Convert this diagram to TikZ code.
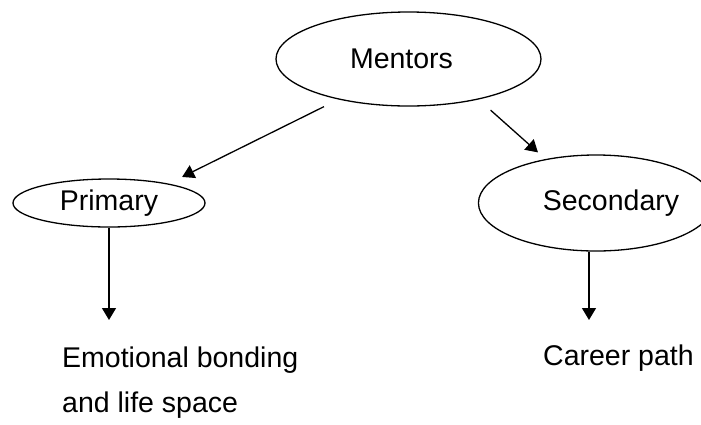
\documentclass[tikz,border=0pt]{standalone}
\usepackage{fontspec}
\setmainfont{Liberation Sans}
\usetikzlibrary{shapes.geometric,arrows.meta}
\tikzset{
bubble/.style={draw, ellipse, line width=1.3pt, inner sep=0pt}, % the ellipses
arr/.style={-{Triangle[length=12pt,width=14pt]}, line width=1.3pt}, % the arrows
}
\begin{document}
\begin{tikzpicture}[x=1pt,y=-1pt,font=\fontsize{28.5}{45}\selectfont]
        \useasboundingbox (0,0) rectangle (701,424);
        \node[bubble, minimum width=265pt, minimum height=94pt] (mentors) at (408.5,59) {\hspace*{-14pt}Mentors};
        \node[bubble, minimum width=192pt, minimum height=48pt] (primary) at (109,203) {Primary};
        \node[bubble, minimum width=208pt, minimum height=96pt] (secondary) at (596,203) {\hspace*{30pt}Secondary};
        % base anchor of a two-line node sits on the last line
        \node[anchor=base west, align=left, inner sep=0pt] (emotional) at (62,412) {Emotional bonding\\and life space};
        \node[anchor=base west, inner sep=0pt] (career) at (543,365) {Career path};
        \coordinate (pend) at (109,320);
        \coordinate (send) at (589,320);
        \draw[arr, shorten <=16pt, shorten >=15pt] (mentors.210) -- (primary.18);
        \draw[arr, shorten <=16pt, shorten >=10pt] (mentors.330) -- (secondary.139);
        \draw[arr] (primary.south) -- (pend);
        \draw[arr] (send |- secondary.south) -- (send);
        \end{tikzpicture}
\end{document}
